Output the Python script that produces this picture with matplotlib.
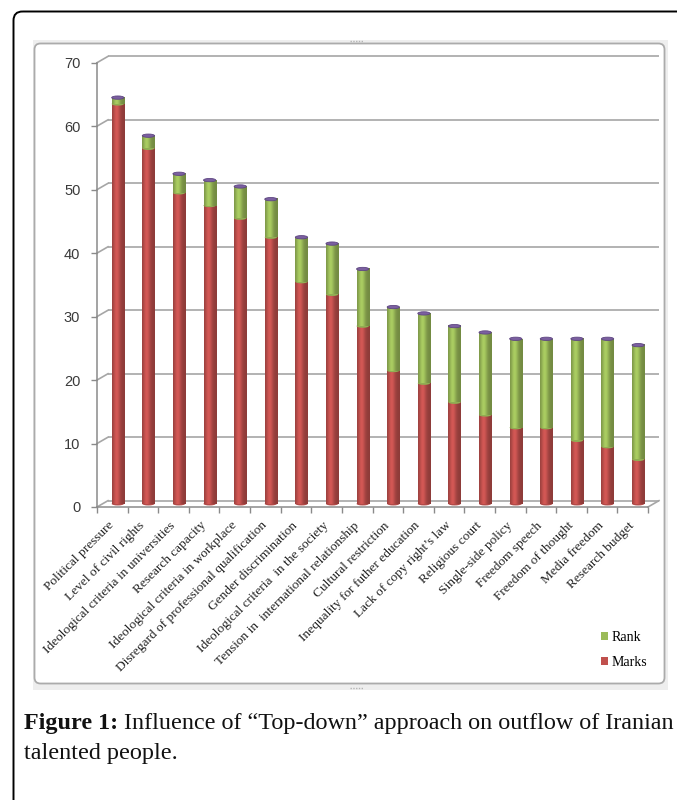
import numpy as np
import matplotlib
matplotlib.use("Agg")
import matplotlib.pyplot as plt
from matplotlib.patches import FancyBboxPatch, Ellipse, Rectangle
from matplotlib.transforms import Affine2D
from matplotlib.lines import Line2D

# ---- data -------------------------------------------------------------
categories = [
    "Political pressure",
    "Level of civil rights",
    "Ideological criteria in universities",
    "Research capacity",
    "Ideological criteria in workplace",
    "Disregard of professional qualification",
    "Gender discrimination",
    "Ideological criteria  in the society",
    "Tension in  international relationship",
    "Cultural restriction",
    "Inequality for futher education",
    "Lack of copy right\u2019s law",
    "Religious court",
    "Single-side policy",
    "Freedom speech",
    "Freedom of thought",
    "Media freedom",
    "Research budget",
]
marks = [63, 56, 49, 47, 45, 42, 35, 33, 28, 21, 19, 16, 14, 12, 12, 10, 9, 7]
rank = [1, 2, 3, 4, 5, 6, 7, 8, 9, 10, 11, 12, 13, 14, 14, 16, 17, 18]
series_names = ["Rank", "Marks"]
y_ticks = list(range(0, 71, 10))

# ---- styling ----------------------------------------------------------
W, H, DPI = 677, 800, 100
RED = "#C0504D"
GREEN = "#9BBB59"
PURPLE = "#7B5FA0"
GRID = "#A6A6A6"
AXIS = "#8A8A8A"

fig = plt.figure(figsize=(W / DPI, H / DPI), dpi=DPI)
fig.patch.set_facecolor("white")

# pixel coordinates measured from the top-left corner
pix = Affine2D().scale(1, -1).translate(0, H)

# outer page frame (black, rounded top-left corner)
fig.add_artist(FancyBboxPatch((13.5, 11.5), 720, 830,
                              boxstyle="round,pad=0,rounding_size=9",
                              transform=pix, fill=False, ec="black", lw=1.4,
                              zorder=-3))

# chart object frame
fig.add_artist(Rectangle((33, 40), 635, 650, transform=pix,
                         fc="#EEEEEE", ec="none", zorder=-3))
fig.add_artist(FancyBboxPatch((34.5, 43.5), 630, 640,
                              boxstyle="round,pad=0,rounding_size=6",
                              transform=pix, fc="white", ec="#ABABAB", lw=1.3,
                              zorder=-2))
for yy in (40.5, 688):
    fig.add_artist(Line2D([350, 363], [yy, yy], transform=pix,
                          color="#B5B5B5", lw=1.0, ls=(0, (1, 1)), zorder=-1))

# ---- plot area (front plane) -----------------------------------------
ax_l, ax_r = 97, 648
ax_b, ax_t = 507, 62.7
ax = fig.add_axes([ax_l / W, (H - ax_b) / H, (ax_r - ax_l) / W, (ax_b - ax_t) / H])
ax.set_facecolor("none")
ax.set_zorder(1)

n = len(categories)
xmax, ymax = n, 70
# depth of the 3-D box expressed in data units
DEPTH_PX = (11.0, 6.35)
DX = DEPTH_PX[0] * xmax / (ax_r - ax_l)
DY = DEPTH_PX[1] * ymax / (ax_b - ax_t)

# back-wall gridlines and the side-wall connectors
ax.hlines([v + DY for v in y_ticks], DX, xmax + DX, colors=GRID, lw=1.2, zorder=1,
          clip_on=False)
for v in y_ticks:
    ax.plot([0, DX], [v, v + DY], color=GRID, lw=1.2, zorder=1, clip_on=False)
ax.plot([xmax, xmax + DX], [0, DY], color=GRID, lw=1.2, zorder=1, clip_on=False)

# ---- stacked cylinders -----------------------------------------------
x = np.arange(n) + 0.5 + DX / 2
width = 0.40
base = DY / 2
totals = [m + r for m, r in zip(marks, rank)]
cap_h = 3.3 * ymax / (ax_b - ax_t)


def shaded(rects, color, z):
    rgb = np.array(matplotlib.colors.to_rgb(color))
    t = np.linspace(0, 1, 64)
    f = 0.74 + 0.36 * np.exp(-((t - 0.36) / 0.28) ** 2)
    img = np.clip(f[None, :, None] * rgb[None, None, :], 0, 1)
    for r in rects:
        x0, y0 = r.get_xy()
        ax.imshow(img, extent=(x0, x0 + r.get_width(), y0, y0 + r.get_height()),
                  aspect="auto", interpolation="bilinear", zorder=z)


def ends(values, color, z):
    rgb = np.array(matplotlib.colors.to_rgb(color))
    for xi, v in zip(x, values):
        ax.add_patch(Ellipse((xi, v + base), width, cap_h, fc=rgb * 0.93,
                             ec="none", zorder=z))


ends([0] * n, RED, 2.5)
bars_marks = ax.bar(x, marks, width, bottom=base, color=RED, zorder=3,
                    label=series_names[1])
shaded(bars_marks, RED, 3.1)
ends(marks, GREEN, 3.2)
bars_rank = ax.bar(x, rank, width, bottom=[m + base for m in marks], color=GREEN,
                   zorder=3.3, label=series_names[0])
shaded(bars_rank, GREEN, 3.4)
for xi, v in zip(x, totals):
    ax.add_patch(Ellipse((xi, v + base), width, cap_h, fc=PURPLE,
                         ec="#5E4682", lw=0.6, zorder=3.5))

# ---- axes --------------------------------------------------------------
ax.set_xlim(0, xmax)
ax.set_ylim(0, ymax)
for s in ("top", "right"):
    ax.spines[s].set_visible(False)
for s in ("left", "bottom"):
    ax.spines[s].set_color(AXIS)
    ax.spines[s].set_linewidth(1.1)
    ax.spines[s].set_zorder(4)

ax.set_yticks(y_ticks)
ax.set_yticklabels([str(v) for v in y_ticks], family="Liberation Sans",
                   fontsize=10.5, color="#3A3A3A")
ax.tick_params(axis="y", direction="out", length=4, width=1, color=AXIS, pad=8)

ax.set_xticks(np.arange(n) + 0.5)
ax.set_xticks(np.arange(n + 1), minor=True)
ax.set_xticklabels(categories, rotation=45, ha="right", va="center",
                   rotation_mode="anchor", family="Liberation Serif",
                   fontsize=9.6, color="#222222")
ax.tick_params(axis="x", which="major", length=0, pad=12)
ax.tick_params(axis="x", which="minor", direction="out", length=4, width=1,
               color=AXIS)

# ---- legend -------------------------------------------------------------
handles = [Rectangle((0, 0), 1, 1, fc=GREEN), Rectangle((0, 0), 1, 1, fc=RED)]
fig.legend(handles, series_names, loc="upper left",
           bbox_to_anchor=(594 / W, 1 - 624 / H), frameon=False,
           prop={"family": "Liberation Serif", "size": 10},
           handlelength=0.5, handleheight=0.5, handletextpad=0.25,
           labelspacing=0.85, borderpad=0)

# ---- caption ------------------------------------------------------------
fig.canvas.draw()
renderer = fig.canvas.get_renderer()
cap_bold = "Figure 1:"
cap_rest = " Influence of \u201cTop-down\u201d approach on outflow of Iranian"
cap_line2 = "talented people."
x0_px, target_px = 24, 650
fs = 15.0
for _ in range(3):
    tb = fig.text(0, 0, cap_bold, family="Liberation Serif", weight="bold", size=fs)
    tr = fig.text(0, 0, cap_rest, family="Liberation Serif", size=fs)
    wsum = tb.get_window_extent(renderer).width + tr.get_window_extent(renderer).width
    tb.remove()
    tr.remove()
    fs *= target_px / wsum

tb = fig.text(x0_px / W, 1 - 729 / H, cap_bold, family="Liberation Serif",
              weight="bold", size=fs, va="baseline", color="#111111")
wb = tb.get_window_extent(renderer).width
fig.text((x0_px + wb) / W, 1 - 729 / H, cap_rest, family="Liberation Serif",
         size=fs, va="baseline", color="#111111")
fig.text(x0_px / W, 1 - 759 / H, cap_line2, family="Liberation Serif",
         size=fs, va="baseline", color="#111111")

fig.savefig("out.png", dpi=DPI, facecolor="white")
